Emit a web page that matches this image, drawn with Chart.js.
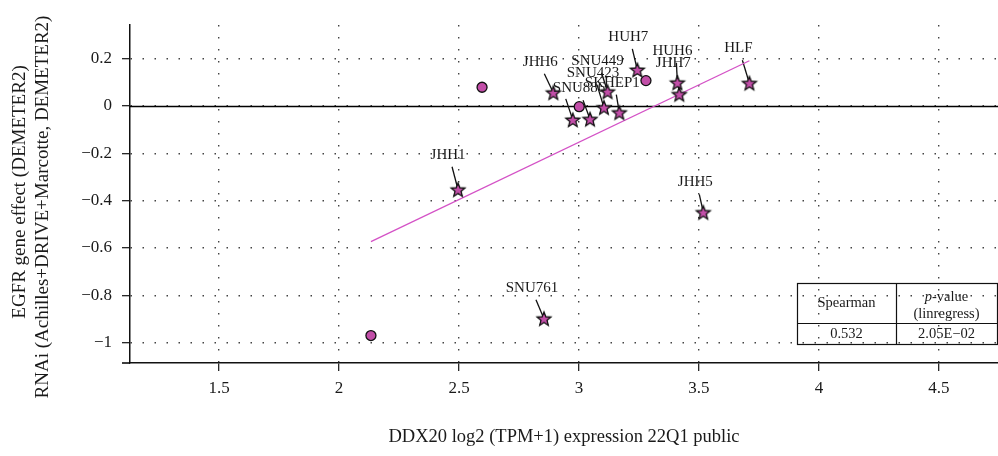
<!DOCTYPE html>
<html lang="en">
<head>
  <meta charset="UTF-8">
  <title>DDX20 vs EGFR gene effect</title>
  <script src="https://cdn.jsdelivr.net/npm/chart.js@4.4.1/dist/chart.umd.min.js"></script>
  <style>
    html, body { margin: 0; padding: 0; background: #fff; }
  </style>
</head>
<body>
  <canvas id="chart-canvas" width="998" height="456"></canvas>
  <script>
    // cell lines drawn as circles (no label)
    const circleX = [2.133, 2.596, 3.001, 3.279];
    const circleY = [-0.970, 0.079, -0.003, 0.107];

    // labelled cell lines drawn as stars
    const starNames = ['JHH1', 'SNU761', 'JHH6', '', 'SNU886', 'SNU423', 'SNU449', 'SKHEP1', 'HUH7', 'HUH6', 'JHH7', 'JHH5', 'HLF'];
    const starX = [2.496, 2.854, 2.893, 2.974, 3.046, 3.104, 3.119, 3.168, 3.243, 3.410, 3.418, 3.518, 3.710];
    const starY = [-0.354, -0.899, 0.056, -0.059, -0.056, -0.007, 0.060, -0.028, 0.152, 0.098, 0.049, -0.450, 0.096];

    // fitted line end points
    const fitX = [2.133, 3.710];
    const fitY = [-0.573, 0.191];

    const xTicks = [1.5, 2, 2.5, 3, 3.5, 4, 4.5];
    const yTicks = [-1, -0.8, -0.6, -0.4, -0.2, 0, 0.2];

    const spearman = '0.532';
    const pValue = '2.05E\u221202';

    // label placement relative to each star, in pixels
    const labelOffsets = [
      [-10, -35], [-12, -31], [-13, -31], [-11, -33], [-11, -31], [-11, -35], [-10, -31],
      [-7, -30], [-9, -33], [-5, -32], [-6, -31], [-8, -30], [-11, -35]
    ];

    const FONT = '"Liberation Serif", "DejaVu Serif", serif';
    const MAGENTA = '#c24ea8';
    const LINE_MAGENTA = '#d452c6';

    Chart.defaults.font.family = FONT;
    Chart.defaults.color = '#1a1a1a';

    // filled five point star used as point style
    const starMarker = (function () {
      const c = document.createElement('canvas');
      c.width = 20; c.height = 20;
      const g = c.getContext('2d');
      g.beginPath();
      for (let i = 0; i < 10; i++) {
        const r = i % 2 ? 3.2 : 7.3;
        const a = -Math.PI / 2 + i * Math.PI / 5;
        g.lineTo(10 + r * Math.cos(a), 10.6 + r * Math.sin(a));
      }
      g.closePath();
      g.fillStyle = MAGENTA;
      g.fill();
      g.lineWidth = 1.3;
      g.strokeStyle = '#111';
      g.stroke();
      return c;
    })();

    const fmt = v => String(Number(v.toFixed(2))).replace('-', '\u2212');

    const zeroLine = {
      id: 'zeroLine',
      beforeDatasetsDraw(chart) {
        const { ctx, chartArea, scales: { x, y } } = chart;
        const py = Math.round(y.getPixelForValue(0)) + 0.5;
        ctx.save();
        ctx.strokeStyle = '#000';
        ctx.lineWidth = 1.4;
        ctx.beginPath();
        ctx.moveTo(chartArea.left, py);
        ctx.lineTo(chartArea.right, py);
        // x axis runs a little past the y axis
        ctx.moveTo(chartArea.left - 8, chartArea.bottom);
        ctx.lineTo(chartArea.left, chartArea.bottom);
        ctx.stroke();

        // leader lines from labels to stars
        ctx.lineWidth = 1.3;
        ctx.strokeStyle = '#111';
        starX.forEach((sx, i) => {
          const px = x.getPixelForValue(sx);
          const pyy = y.getPixelForValue(starY[i]);
          const [dx, dy] = labelOffsets[i];
          ctx.beginPath();
          ctx.moveTo(px + dx + 4, pyy + dy + 12);
          ctx.lineTo(px, pyy);
          ctx.stroke();
        });
        ctx.restore();
      }
    };

    const pointLabels = {
      id: 'pointLabels',
      afterDatasetsDraw(chart) {
        const { ctx, scales: { x, y } } = chart;
        ctx.save();
        ctx.font = '15px ' + FONT;
        ctx.fillStyle = '#1a1a1a';
        ctx.textAlign = 'center';
        ctx.textBaseline = 'middle';
        starNames.forEach((name, i) => {
          if (!name) return;
          const [dx, dy] = labelOffsets[i];
          ctx.fillText(name, x.getPixelForValue(starX[i]) + dx, y.getPixelForValue(starY[i]) + dy);
        });
        ctx.restore();
      }
    };

    const titlesAndTable = {
      id: 'titlesAndTable',
      afterDraw(chart) {
        const { ctx, chartArea } = chart;
        ctx.save();
        ctx.fillStyle = '#1a1a1a';
        ctx.textAlign = 'center';
        ctx.textBaseline = 'middle';
        ctx.font = '18.5px ' + FONT;
        ctx.fillText('DDX20 log2 (TPM+1) expression 22Q1 public', (chartArea.left + chartArea.right) / 2, chartArea.bottom + 74);

        ctx.save();
        ctx.translate(20, 0);
        ctx.rotate(-Math.PI / 2);
        ctx.font = '19px ' + FONT;
        ctx.fillText('EGFR gene effect (DEMETER2)', -192, 0);
        ctx.fillText('RNAi (Achilles+DRIVE+Marcotte, DEMETER2)', -207, 23);
        ctx.restore();

        // statistics table in the lower right corner
        const L = chartArea.right - 201, R = chartArea.right - 1, M = chartArea.right - 102;
        const T = chartArea.bottom - 80, B = chartArea.bottom - 19, H = chartArea.bottom - 40;
        ctx.strokeStyle = '#111';
        ctx.lineWidth = 1.2;
        ctx.strokeRect(L + 0.5, T + 0.5, R - L, B - T);
        ctx.beginPath();
        ctx.moveTo(M + 0.5, T); ctx.lineTo(M + 0.5, B);
        ctx.moveTo(L, H + 0.5); ctx.lineTo(R, H + 0.5);
        ctx.stroke();

        ctx.font = '14.5px ' + FONT;
        ctx.fillText('Spearman', (L + M) / 2, (T + H) / 2);
        ctx.fillText(spearman, (L + M) / 2, (H + B) / 2 + 1);
        ctx.fillText(pValue, (M + R) / 2, (H + B) / 2 + 1);
        ctx.fillText('(linregress)', (M + R) / 2, T + 31);

        // "p-value" with an italic p
        const rest = '-value';
        const italic = 'italic 14.5px ' + FONT;
        ctx.font = italic;
        const wp = ctx.measureText('p').width;
        ctx.font = '14.5px ' + FONT;
        const wr = ctx.measureText(rest).width;
        const start = (M + R) / 2 - (wp + wr) / 2;
        ctx.textAlign = 'left';
        ctx.font = italic;
        ctx.fillText('p', start, T + 14);
        ctx.font = '14.5px ' + FONT;
        ctx.fillText(rest, start + wp, T + 14);
        ctx.restore();
      }
    };

    const gridStyle = {
      color: '#444',
      lineWidth: 1.4,
      tickLength: 8,
      tickColor: '#111',
      tickWidth: 1.2,
      tickBorderDash: []
    };

    new Chart(document.getElementById('chart-canvas').getContext('2d'), {
      type: 'scatter',
      data: {
        datasets: [
          {
            label: 'stars',
            data: starX.map((v, i) => ({ x: v, y: starY[i] })),
            pointStyle: starMarker,
            order: 1
          },
          {
            label: 'circles',
            data: circleX.map((v, i) => ({ x: v, y: circleY[i] })),
            pointStyle: 'circle',
            pointRadius: 5,
            backgroundColor: MAGENTA,
            borderColor: '#111',
            borderWidth: 1.3,
            order: 2
          },
          {
            type: 'line',
            label: 'fit',
            data: fitX.map((v, i) => ({ x: v, y: fitY[i] })),
            borderColor: LINE_MAGENTA,
            borderWidth: 1.3,
            pointRadius: 0,
            fill: false,
            order: 3
          }
        ]
      },
      options: {
        responsive: false,
        devicePixelRatio: 1,
        animation: false,
        events: [],
        layout: { autoPadding: false, padding: { top: 25, left: 0, right: 0, bottom: 0 } },
        plugins: {
          legend: { display: false },
          tooltip: { enabled: false }
        },
        scales: {
          x: {
            type: 'linear',
            min: 1.129,
            max: 4.746,
            afterFit: s => { s.height = 93; },
            afterBuildTicks: s => { s.ticks = xTicks.map(v => ({ value: v })); },
            ticks: { font: { size: 17 }, color: '#1a1a1a', padding: 7, callback: v => fmt(v) },
            grid: gridStyle,
            border: { display: true, color: '#111', width: 1.5, dash: [1.5, 10.5] }
          },
          y: {
            type: 'linear',
            min: -1.086,
            max: 0.342,
            afterFit: s => { s.width = 130; },
            afterBuildTicks: s => { s.ticks = yTicks.map(v => ({ value: v })); },
            ticks: { font: { size: 17 }, color: '#1a1a1a', padding: 10, callback: v => fmt(v) },
            grid: gridStyle,
            border: { display: true, color: '#111', width: 1.5, dash: [1.5, 10.5] }
          }
        }
      },
      plugins: [zeroLine, pointLabels, titlesAndTable]
    });
  </script>
</body>
</html>
